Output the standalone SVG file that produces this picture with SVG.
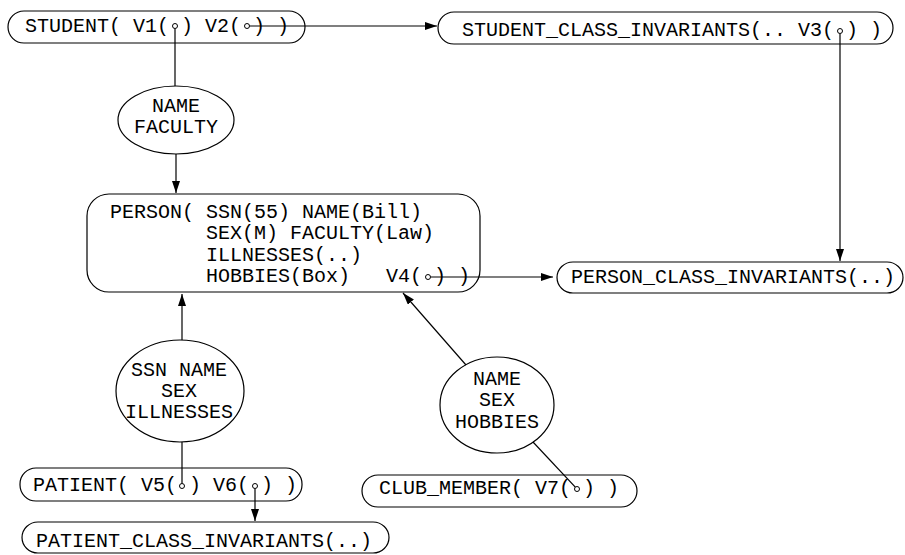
<svg xmlns="http://www.w3.org/2000/svg" width="905" height="555" viewBox="0 0 905 555" xml:space="preserve">
<style>
text{font-family:"Liberation Mono","Courier New",monospace;font-size:20px;fill:#000;white-space:pre}
.box{fill:#fff;stroke:#000;stroke-width:1.2}
.ell{fill:#fff;stroke:#000;stroke-width:1.2}
.c{fill:#fff;stroke:#000;stroke-width:1}
.mid{text-anchor:middle}
#connectors line,#connectors path{stroke:#000;stroke-width:1.2;fill:none}
</style>
<defs>
<marker id="ah" markerUnits="userSpaceOnUse" markerWidth="12" markerHeight="8" refX="12" refY="4" orient="auto">
<path d="M0,0 L12,4 L0,8 z" fill="#000"/>
</marker>
</defs>
<rect width="905" height="555" fill="#fff"/>

<g id="student">
<rect class="box" x="8" y="11" width="297" height="32" rx="16"/>
<text x="25" y="32">STUDENT( V1( ) V2( ) )</text>
</g>
<g id="student_class_invariants">
<rect class="box" x="438" y="12" width="455" height="32" rx="16"/>
<text x="462" y="36">STUDENT_CLASS_INVARIANTS(.. V3( ) )</text>
</g>
<g id="name_faculty">
<ellipse class="ell" cx="176" cy="120" rx="58" ry="34"/>
<text class="mid" x="176" y="112">NAME</text>
<text class="mid" x="176" y="133">FACULTY</text>
</g>
<g id="person">
<rect class="box" x="87" y="194" width="393" height="98" rx="22"/>
<text x="110" y="218">PERSON( SSN(55) NAME(Bill)</text>
<text x="206" y="239">SEX(M) FACULTY(Law)</text>
<text x="206" y="261">ILLNESSES(..)</text>
<text x="206" y="282">HOBBIES(Box)   V4( ) )</text>
</g>
<g id="person_class_invariants">
<rect class="box" x="557" y="262" width="346" height="31" rx="16"/>
<text x="571" y="283">PERSON_CLASS_INVARIANTS(..)</text>
</g>
<g id="ssn_name_sex_illnesses">
<ellipse class="ell" cx="180" cy="391" rx="64" ry="51"/>
<text class="mid" x="179" y="376">SSN NAME</text>
<text class="mid" x="179" y="397">SEX</text>
<text class="mid" x="179" y="418">ILLNESSES</text>
</g>
<g id="name_sex_hobbies">
<ellipse class="ell" cx="497" cy="405" rx="57" ry="48"/>
<text class="mid" x="497" y="385">NAME</text>
<text class="mid" x="497" y="406">SEX</text>
<text class="mid" x="497" y="428">HOBBIES</text>
</g>
<g id="patient">
<rect class="box" x="20" y="468" width="282" height="33" rx="16"/>
<text x="33" y="491">PATIENT( V5( ) V6( ) )</text>
</g>
<g id="patient_class_invariants">
<rect class="box" x="22" y="522" width="367" height="31" rx="16"/>
<text x="36" y="547">PATIENT_CLASS_INVARIANTS(..)</text>
</g>
<g id="club_member">
<rect class="box" x="362" y="475" width="275" height="32" rx="16"/>
<text x="379" y="494">CLUB_MEMBER( V7( ) )</text>
</g>

<g id="connectors">
<line x1="175" y1="28.5" x2="175" y2="86"/>
<line x1="249.5" y1="26" x2="437" y2="26" marker-end="url(#ah)"/>
<line x1="176" y1="154" x2="176" y2="193" marker-end="url(#ah)"/>
<line x1="840" y1="33.5" x2="840" y2="261" marker-end="url(#ah)"/>
<line x1="430.5" y1="277" x2="553" y2="277" marker-end="url(#ah)"/>
<line x1="182" y1="340" x2="182" y2="294" marker-end="url(#ah)"/>
<line x1="182" y1="483.5" x2="182" y2="442"/>
<line x1="255" y1="488.5" x2="255" y2="521" marker-end="url(#ah)"/>
<line x1="466" y1="365" x2="403" y2="293" marker-end="url(#ah)"/>
<line x1="575.3" y1="487.2" x2="533" y2="442"/>
<circle class="c" cx="175" cy="26" r="2.5"/>
<circle class="c" cx="247" cy="26" r="2.5"/>
<circle class="c" cx="840" cy="31" r="2.5"/>
<circle class="c" cx="428" cy="277" r="2.5"/>
<circle class="c" cx="182" cy="486" r="2.5"/>
<circle class="c" cx="255" cy="486" r="2.5"/>
<circle class="c" cx="577" cy="489" r="2.5"/>
</g>
</svg>
